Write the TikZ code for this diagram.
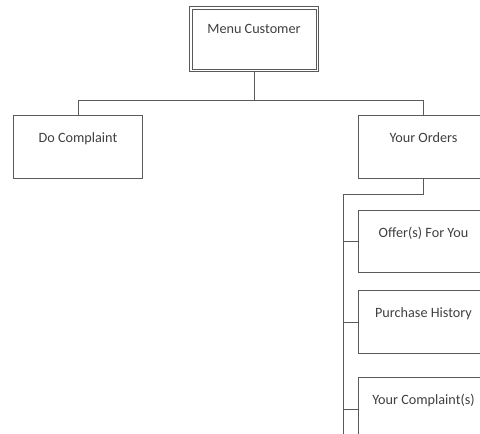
\documentclass[tikz,border=0pt]{standalone}
\usepackage{fontspec}
\setmainfont{Carlito}
\definecolor{edge}{RGB}{90,90,90}
\definecolor{ink}{RGB}{64,64,64}
\tikzset{
  menubox/.style={draw=edge, line width=1pt, fill=white, inner sep=0pt,
    font=\fontsize{14.2}{16}\selectfont, text=ink,
    minimum width=#1, text height=22.5pt+4.5pt},
  conn/.style={draw=edge, line width=1pt},
}
\begin{document}
\begin{tikzpicture}[x=1pt, y=-1pt]
  \useasboundingbox (0,0) rectangle (480,434);
  \clip (0,0) rectangle (480,434);

  % top menu (double border)
  \node[menubox=129pt, text depth=38pt, anchor=north west] (menu) at (189,6) {Menu Customer};
  \draw[conn] ([shift={(3pt,-3pt)}]menu.north west) rectangle ([shift={(-3pt,3pt)}]menu.south east);

  % first level
  \node[menubox=129pt, text depth=36pt, anchor=north west] (do) at (13,115) {Do Complaint};
  \node[menubox=130pt, text depth=36pt, anchor=north west] (orders) at (358,115) {Your Orders};

  % second level under Your Orders
  \node[menubox=130pt, text depth=35pt, anchor=north west] (offer) at (358,210) {Offer(s) For You};
  \node[menubox=130pt, text depth=36pt, anchor=north west] (purchase) at (358,290) {Purchase History};
  \node[menubox=130pt, text depth=36pt, anchor=north west] (complaint) at (358,377) {Your Complaint(s)};

  % connectors
  \coordinate (hub) at ([yshift=-28pt]menu.south);
  \draw[conn] (menu.south) -- (hub);
  \draw[conn] (hub) -| (do.north);
  \draw[conn] (hub) -| (orders.north);

  \coordinate (spine) at (343,194);
  \draw[conn] (orders.south) |- (spine) -- (spine |- complaint.south);
  \draw[conn] (spine |- offer.west) -- (offer.west);
  \draw[conn] (spine |- purchase.west) -- (purchase.west);
  \draw[conn] (spine |- complaint.west) -- (complaint.west);
\end{tikzpicture}
\end{document}
